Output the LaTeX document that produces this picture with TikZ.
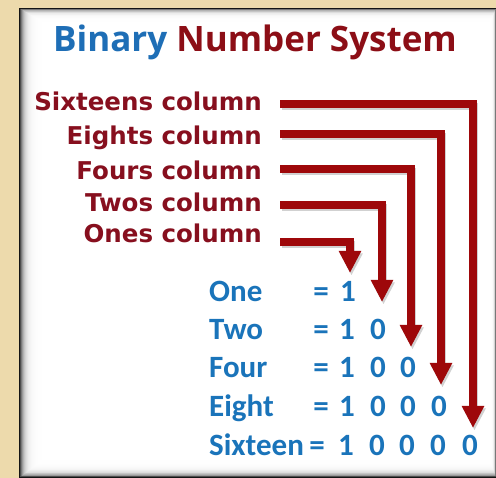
\documentclass[tikz,border=0pt]{standalone}
\usepackage{fontspec}
\usetikzlibrary{arrows.meta}
\newfontfamily\titlefont{Open Sans}
\newfontfamily\labfont{DejaVu Sans}
\newfontfamily\numfont{Carlito}
\definecolor{bgtan}{RGB}{237,218,172}
\definecolor{tblue}{RGB}{30,110,182}
\definecolor{tred}{RGB}{140,14,22}
\definecolor{lred}{RGB}{135,15,30}
\definecolor{conred}{RGB}{158,8,10}
\definecolor{nblue}{RGB}{26,116,186}
\tikzset{
  lab/.style={anchor=base east, inner sep=0pt, text=lred, font=\labfont\bfseries\fontsize{24.5}{28}\selectfont},
  num/.style={anchor=base, inner sep=0pt, text=nblue, font=\numfont\bfseries\fontsize{31}{34}\selectfont},
  word/.style={num, anchor=base west},
  conn/.style={draw=conred, line width=7.5pt, line join=miter, -{Triangle[width=21pt,length=22pt]}},
  connshadow/.style={draw=black, opacity=0.18, line width=7.5pt, line join=miter, -{Triangle[width=21pt,length=22pt]}}
}
\begin{document}
\begin{tikzpicture}[x=1pt,y=-1pt]
\useasboundingbox (0,0) rectangle (496,478);
\fill[bgtan] (0,0) rectangle (496,478);
% panel with inner shadow
\foreach \i in {0,...,22}{
  \pgfmathsetmacro\c{92*exp(-\i/3.6)}
  \fill[black!\c!white] (19+\i,8+0.6*\i) rectangle (496-0.25*\i,478-0.75*\i);
}
\fill[white] (42,22) rectangle (490,460);
% title
\node[anchor=base, inner sep=0pt, font=\titlefont\bfseries\fontsize{35}{40}\selectfont] (title) at (255,52)
  {\textcolor{tblue}{Binary} \textcolor{tred}{Number System}};
% labels
\node[lab] (l16) at (262,110.5) {Sixteens column};
\node[lab] (l8)  at (262,145) {Eights column};
\node[lab] (l4)  at (262,180) {Fours column};
\node[lab] (l2)  at (262,211.5) {Twos column};
\node[lab] (l1)  at (262,243) {Ones column};
% connector coordinates
\coordinate (s16) at (280,104);
\coordinate (s8)  at (280,134);
\coordinate (s4)  at (280,169);
\coordinate (s2)  at (280,205);
\coordinate (s1)  at (280,242);
\coordinate (t16) at (473,428);
\coordinate (t8)  at (441,385);
\coordinate (t4)  at (411,347);
\coordinate (t2)  at (382,302);
\coordinate (t1)  at (350,273);
% shadows
\begin{scope}[transform canvas={shift={(1.5pt,-2.5pt)}}]
\foreach \k in {16,8,4,2,1}{\draw[connshadow] (s\k) -| (t\k);}
\end{scope}
\foreach \k in {16,8,4,2,1}{\draw[conn] (s\k) -| (t\k);}
% number rows
\node[word] (w1) at (209,302) {One};
\node[word] (w2) at (209,340) {Two};
\node[word] (w4) at (209,378) {Four};
\node[word] (w8) at (209,417) {Eight};
\node[word] (w16) at (209,456) {Sixteen};
\node[num] (e1) at (321,302) {=};
\node[num] (e2) at (321,340) {=};
\node[num] (e4) at (321,378) {=};
\node[num] (e8) at (321,417) {=};
\node[num] (e16) at (317,456) {=};
\node[num] (d11) at (348,302) {1};
\node[num] (d21) at (347,340) {1};
\node[num] (d22) at (378,340) {0};
\node[num] (d41) at (347,378) {1};
\node[num] (d42) at (378,378) {0};
\node[num] (d43) at (408,378) {0};
\node[num] (d81) at (347,417) {1};
\node[num] (d82) at (378,417) {0};
\node[num] (d83) at (408,417) {0};
\node[num] (d84) at (439,417) {0};
\node[num] (d161) at (346,456) {1};
\node[num] (d162) at (377,456) {0};
\node[num] (d163) at (407,456) {0};
\node[num] (d164) at (438,456) {0};
\node[num] (d165) at (470,456) {0};
\end{tikzpicture}
\end{document}
